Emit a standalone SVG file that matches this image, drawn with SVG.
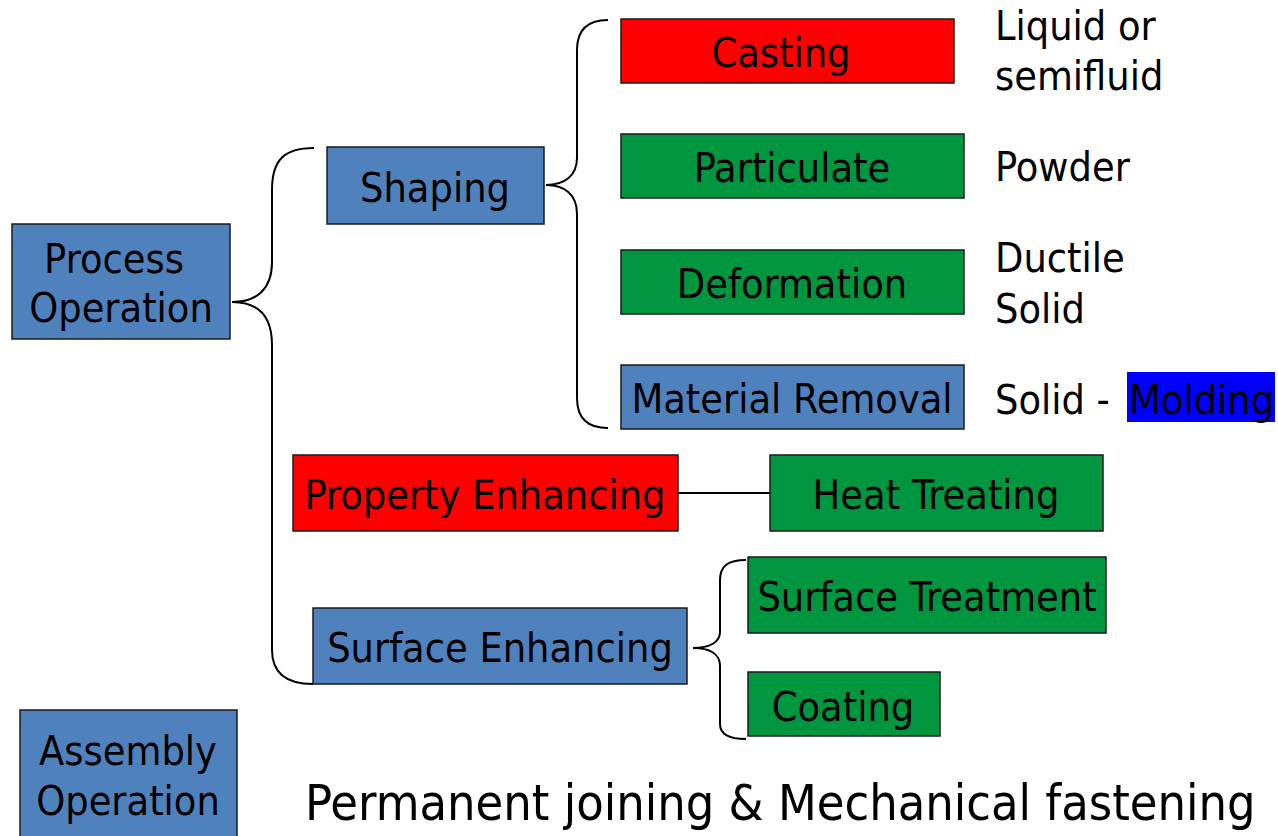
<svg xmlns="http://www.w3.org/2000/svg" width="1278" height="836" viewBox="0 0 1278 836">
<style>
.box{stroke:#1a1a1a;stroke-width:1.5}
.blue{fill:#4F81BD}
.red{fill:#FF0000}
.green{fill:#00963F}
text{font-family:"DejaVu Sans Condensed","DejaVu Sans",sans-serif;font-size:41px;fill:#000}
.c{text-anchor:middle}
.br{fill:none;stroke:#000;stroke-width:2}
</style>
<rect width="1278" height="836" fill="#fff"/>
<g id="connectors">
<path class="br" d="M314,148 C284,148 272,160 272,190 L272,262 C272,290 256,302 232,302 C256,302 272,314 272,345 L272,650 C272,674 288,684 313,684"/>
<path class="br" d="M608,20 C588,20 577,30 577,50 L577,158 C577,176 564,185 546,185 C564,185 577,194 577,214 L577,398 C577,418 588,428 608,428"/>
<path class="br" d="M678,493 L770,493"/>
<path class="br" d="M746,560 C728,560 720,566 720,580 L720,632 C720,642 710,648 693,648 C710,648 720,654 720,666 L720,724 C720,734 728,739 746,739"/>
</g>
<g id="process-operation"><rect class="box blue" x="12" y="224" width="218" height="115"/><text class="c" x="114" y="273">Process</text><text class="c" x="121" y="322">Operation</text></g>
<g id="shaping"><rect class="box blue" x="327" y="147" width="217" height="77"/><text class="c" x="435" y="202">Shaping</text></g>
<g id="casting"><rect class="box red" x="621" y="19" width="333" height="64"/><text class="c" x="781" y="67">Casting</text></g>
<g id="particulate"><rect class="box green" x="621" y="134" width="343" height="64"/><text class="c" x="792" y="182">Particulate</text></g>
<g id="deformation"><rect class="box green" x="621" y="250" width="343" height="64"/><text class="c" x="792" y="298">Deformation</text></g>
<g id="material-removal"><rect class="box blue" x="621" y="365" width="343" height="64"/><text class="c" x="792" y="413">Material Removal</text></g>
<g id="property-enhancing"><rect class="box red" x="293" y="455" width="385" height="76"/><text class="c" x="485" y="509">Property Enhancing</text></g>
<g id="heat-treating"><rect class="box green" x="770" y="455" width="333" height="76"/><text class="c" x="936" y="509">Heat Treating</text></g>
<g id="surface-enhancing"><rect class="box blue" x="313" y="608" width="374" height="76"/><text class="c" x="500" y="662">Surface Enhancing</text></g>
<g id="surface-treatment"><rect class="box green" x="748" y="557" width="358" height="76"/><text class="c" x="927" y="611">Surface Treatment</text></g>
<g id="coating"><rect class="box green" x="748" y="672" width="192" height="64"/><text class="c" x="843" y="721">Coating</text></g>
<g id="assembly-operation"><rect class="box blue" x="20" y="710" width="217" height="140"/><text class="c" x="128" y="765">Assembly</text><text class="c" x="128" y="815">Operation</text></g>
<g id="labels">
<text x="995" y="40">Liquid or</text>
<text x="995" y="90">semifluid</text>
<text x="995" y="181">Powder</text>
<text x="995" y="272">Ductile</text>
<text x="995" y="323">Solid</text>
<rect x="1127" y="372" width="148" height="50" fill="#0000FF"/>
<text x="995" y="414">Solid -</text>
<text x="1129" y="414">Molding</text>
<text x="305" y="820" style="font-size:50px">Permanent joining &amp; Mechanical fastening</text>
</g>
</svg>
